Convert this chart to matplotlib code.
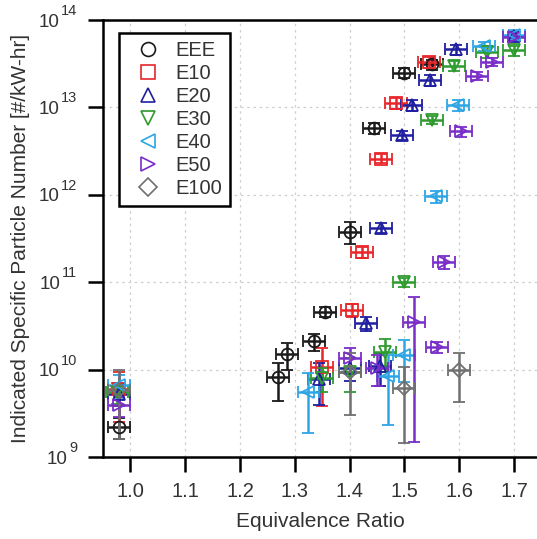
import math
import matplotlib
matplotlib.use("Agg")
import matplotlib.pyplot as plt
import matplotlib.transforms as mtransforms
from matplotlib.lines import Line2D
from matplotlib.ticker import FixedLocator, FuncFormatter, NullFormatter

plt.rcParams["font.family"] = ["Liberation Sans", "DejaVu Sans"]

# Equivalence ratio (phi), particle number (pn) and their standard deviations
eee_phi = [0.98, 1.27, 1.285, 1.335, 1.355, 1.40, 1.445, 1.50, 1.55]
eee_pn = [2.2e9, 8.2e9, 1.5e10, 2.1e10, 4.6e10, 3.8e11, 5.8e12, 2.5e13, 3.1e13]
eee_sd = [0.6e9, 3.8e9, 0.5e10, 0.45e10, 0.65e10, 1.1e11, 0.9e12, 0.35e13, 0.4e13]

e10_phi = [0.98, 1.35, 1.405, 1.423, 1.458, 1.485, 1.545]
e10_pn = [6.0e9, 1.07e10, 4.8e10, 2.2e11, 2.6e12, 1.12e13, 3.3e13]
e10_sd = [3.5e9, 0.69e10, 0.8e10, 0.3e11, 0.3e12, 0.15e13, 0.45e13]

e20_phi = [0.98, 1.345, 1.40, 1.43, 1.455, 1.458, 1.496, 1.513, 1.546, 1.595, 1.70]
e20_pn = [5.3e9, 7.9e9, 1.05e10, 3.4e10, 1.1e10, 4.2e11, 4.8e12, 1.07e13, 2.05e13, 4.6e13, 6.5e13]
e20_sd = [1.5e9, 4.0e9, 0.3e10, 0.6e10, 0.45e10, 0.5e11, 0.6e12, 0.15e13, 0.3e13, 0.6e13, 0.8e13]

e30_phi = [0.975, 1.35, 1.40, 1.465, 1.50, 1.55, 1.59, 1.65, 1.70]
e30_pn = [5.5e9, 8.0e9, 9.5e9, 1.6e10, 1.0e11, 7.2e12, 3.0e13, 4.3e13, 4.5e13]
e30_sd = [1.5e9, 2.5e9, 4.0e9, 0.65e10, 0.12e11, 0.8e12, 0.4e13, 0.6e13, 0.6e13]

e40_phi = [0.98, 1.325, 1.47, 1.50, 1.558, 1.597, 1.646, 1.70]
e40_pn = [6.6e9, 5.5e9, 8.5e9, 1.45e10, 9.6e11, 1.07e13, 5.0e13, 6.8e13]
e40_sd = [2.0e9, 3.6e9, 6.2e9, 0.73e10, 1.5e11, 0.15e13, 0.6e13, 0.8e13]

e50_phi = [0.98, 1.40, 1.45, 1.518, 1.56, 1.573, 1.604, 1.633, 1.66, 1.70]
e50_pn = [3.9e9, 1.35e10, 1.05e10, 3.5e10, 1.8e10, 1.7e11, 5.3e12, 2.3e13, 3.3e13, 6.4e13]
e50_sd = [1.0e9, 0.4e10, 0.4e10, 3.35e10, 0.25e10, 0.3e11, 0.7e12, 0.25e13, 0.35e13, 0.7e13]

e100_phi = [0.98, 1.40, 1.50, 1.60]
e100_pn = [5.8e9, 9.3e9, 6.1e9, 9.9e9]
e100_sd = [4.2e9, 6.3e9, 4.65e9, 5.6e9]

phi_sd = 0.02

x_ticks = [1.0, 1.1, 1.2, 1.3, 1.4, 1.5, 1.6, 1.7]
y_ticks = [1e9, 1e10, 1e11, 1e12, 1e13, 1e14]

labels = ["EEE", "E10", "E20", "E30", "E40", "E50", "E100"]
markers = ["o", "s", "^", "v", "<", ">", "D"]
colors = ["#1a1a1a", "#e8262a", "#1f1f9f", "#2e9b2e", "#2ea6e6", "#7a2ec8", "#707070"]
series = [
    (eee_phi, eee_pn, eee_sd),
    (e10_phi, e10_pn, e10_sd),
    (e20_phi, e20_pn, e20_sd),
    (e30_phi, e30_pn, e30_sd),
    (e40_phi, e40_pn, e40_sd),
    (e50_phi, e50_pn, e50_sd),
    (e100_phi, e100_pn, e100_sd),
]

text_color = "#333333"
fig = plt.figure(figsize=(5.37, 5.39), dpi=100)
ax = fig.add_axes([103 / 537, 1 - 457 / 539, 1 - 103 / 537, 437 / 539])

for (x, y, sd), lab, mk, col in zip(series, labels, markers, colors):
    ax.errorbar(x, y, yerr=sd, xerr=phi_sd, fmt=mk, mfc="none", mec=col,
                ms=8.5 if mk != "D" else 7.5, mew=1.3, ecolor=col,
                elinewidth=1.8, capsize=4.5, capthick=1.8, zorder=3)

ax.set_yscale("log")
ax.set_xlim(0.95, 1.742)
ax.set_ylim(1e9, 1e14)

ax.xaxis.set_major_locator(FixedLocator(x_ticks))
ax.xaxis.set_major_formatter(FuncFormatter(lambda v, p: f"{v:.1f}"))
ax.yaxis.set_major_locator(FixedLocator(y_ticks))
ax.yaxis.set_major_formatter(NullFormatter())
ax.yaxis.set_minor_locator(FixedLocator([]))

ax.grid(True, which="major", linestyle=(0, (2, 3)), color="#cfcfcf", linewidth=0.9, zorder=0)
ax.set_axisbelow(True)

for side in ("left", "top", "bottom"):
    ax.spines[side].set_linewidth(1.8)
    ax.spines[side].set_color("black")
ax.spines["right"].set_visible(False)

ax.tick_params(axis="both", which="major", direction="out", length=11,
               width=1.8, colors="black", labelcolor=text_color, labelsize=14.5)
ax.tick_params(axis="x", pad=7)

# power-of-ten labels: base "10" with a raised exponent
ytrans = mtransforms.blended_transform_factory(ax.transAxes, ax.transData)
fig.canvas.draw()
renderer = fig.canvas.get_renderer()
for v in y_ticks:
    exp = str(int(round(math.log10(v))))
    t_exp = ax.text(0, v, exp, fontsize=10.5, color=text_color, ha="right", va="baseline",
                    transform=ytrans + mtransforms.ScaledTranslation(-26 / 100, 5 / 100, fig.dpi_scale_trans),
                    clip_on=False)
    w = t_exp.get_window_extent(renderer).width
    ax.text(0, v, "10", fontsize=13.5, color=text_color, ha="right", va="baseline",
            transform=ytrans + mtransforms.ScaledTranslation(-(27 + w) / 100, -6.7 / 100, fig.dpi_scale_trans),
            clip_on=False)

ax.set_xlabel("Equivalence Ratio", fontsize=15, color=text_color, labelpad=8)
ax.set_ylabel("Indicated Specific Particle Number [#/kW-hr]", fontsize=15,
              color=text_color, labelpad=38)

handles = [Line2D([], [], linestyle="none", marker=mk, mfc="none", mec=col,
                  ms=10 if mk != "D" else 9, mew=1.2)
           for mk, col in zip(markers, colors)]
leg = ax.legend(handles, labels, loc="upper left", bbox_to_anchor=(0.037, 0.97),
                borderaxespad=0, fancybox=False, framealpha=1, edgecolor="black",
                fontsize=14.5, handlelength=2.1, handletextpad=0.3,
                labelspacing=0.2, borderpad=0.4)
leg.get_frame().set_linewidth(1.8)
for t in leg.get_texts():
    t.set_color(text_color)

fig.savefig("out.png", dpi=100)
